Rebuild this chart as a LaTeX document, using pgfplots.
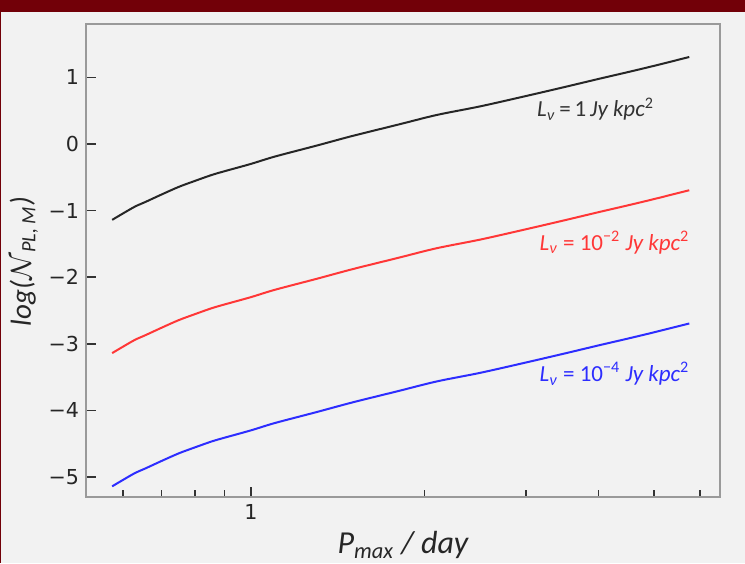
\documentclass[border=0pt]{standalone}
\usepackage{pgfplots}
\pgfplotsset{compat=1.18}
\usepackage{pgfplotstable}
\usepackage{fontspec}
\setmainfont{DejaVu Sans}
\newfontfamily\carl{Carlito}
\definecolor{bg}{HTML}{F2F2F2}
\definecolor{maroonband}{RGB}{114,0,8}
\definecolor{spine}{HTML}{9A9A9A}
\definecolor{cred}{RGB}{255,55,55}
\definecolor{cblue}{RGB}{45,45,255}

\pgfplotstableread{
P      black   red     blue
0.575  -1.140  -3.140  -5.140
0.600  -1.045  -3.045  -5.045
0.630  -0.940  -2.940  -4.940
0.657  -0.870  -2.870  -4.870
0.700  -0.760  -2.760  -4.760
0.750  -0.645  -2.645  -4.645
0.800  -0.555  -2.555  -4.555
0.856  -0.465  -2.465  -4.465
0.900  -0.410  -2.410  -4.410
1.000  -0.300  -2.300  -4.300
1.100  -0.190  -2.190  -4.190
1.300  -0.025  -2.025  -4.025
1.500   0.120  -1.880  -3.880
1.800   0.290  -1.710  -3.710
2.100   0.435  -1.565  -3.565
2.500   0.565  -1.435  -3.435
3.000   0.720  -1.280  -3.280
3.500   0.855  -1.145  -3.145
4.000   0.975  -1.025  -3.025
4.500   1.078  -0.922  -2.922
5.000   1.173  -0.827  -2.827
5.750   1.305  -0.695  -2.695
}\datatable

\begin{document}
\begin{tikzpicture}
\fill[bg] (-43pt,-33pt) rectangle (329.5pt,248.5pt);
\fill[maroonband] (-43pt,242.5pt) rectangle (329.5pt,248.5pt);
\fill[maroonband] (-43pt,-33pt) rectangle (-42.3pt,248.5pt);
\begin{axis}[
  at={(0,0)}, anchor=south west,
  xmode=log, scale only axis, width=317pt, height=236.5pt,
  xmin=0.518, xmax=6.5, ymin=-5.3, ymax=1.8,
  xtick={1}, xticklabels={1},
  minor xtick={0.6,0.7,0.8,0.9,2,3,4,5,6},
  ytick={-5,-4,-3,-2,-1,0,1},
  yticklabels={−5,−4,−3,−2,−1,0,1},
  tick pos=left, tick align=inside,
  major tick length=5pt, minor tick length=3.5pt,
  axis line style={draw=spine, line width=1pt},
  every tick/.style={black!80, line width=0.8pt},
  tick label style={font=\fontsize{10.3}{12}\selectfont, text=black!85},
  axis background/.style={fill=bg},
  xlabel={\carl\itshape P\textsubscript{max} / day},
  ylabel={\carl\itshape log(\ensuremath{\mathcal{N}}\textsubscript{PL, M})},
  label style={text=black!85},
  xlabel style={font=\fontsize{16}{19}\selectfont, at={(axis description cs:0.5,-0.1015)}, anchor=center},
  ylabel style={font=\fontsize{14.5}{17}\selectfont, at={(axis description cs:-0.098,0.498)}, anchor=center},
  clip=false,
]
\addplot[black!85, line width=1pt, smooth] table[x=P, y=black] {\datatable};
\addplot[cred, line width=1pt, smooth] table[x=P, y=red] {\datatable};
\addplot[cblue, line width=1pt, smooth] table[x=P, y=blue] {\datatable};
\node[anchor=west, inner sep=0pt, text=black!80, font=\fontsize{11.5}{13}\selectfont\carl] at (axis cs:3.13,0.523)
  {\textit{L}\textsubscript{\textit{ν}}\,=\,1\,\textit{Jy kpc}\textsuperscript{2}};
\node[anchor=west, inner sep=0pt, text=cred, font=\fontsize{11.5}{13}\selectfont\carl] at (axis cs:3.16,-1.48)
  {\textit{L}\textsubscript{\textit{ν}} = 10\textsuperscript{−2} \textit{Jy kpc}\textsuperscript{2}};
\node[anchor=west, inner sep=0pt, text=cblue, font=\fontsize{11.5}{13}\selectfont\carl] at (axis cs:3.16,-3.45)
  {\textit{L}\textsubscript{\textit{ν}} = 10\textsuperscript{−4} \textit{Jy kpc}\textsuperscript{2}};
\end{axis}
\pgfresetboundingbox
\path[use as bounding box] (-43pt,-33pt) rectangle (329.5pt,248.5pt);
\end{tikzpicture}
\end{document}
